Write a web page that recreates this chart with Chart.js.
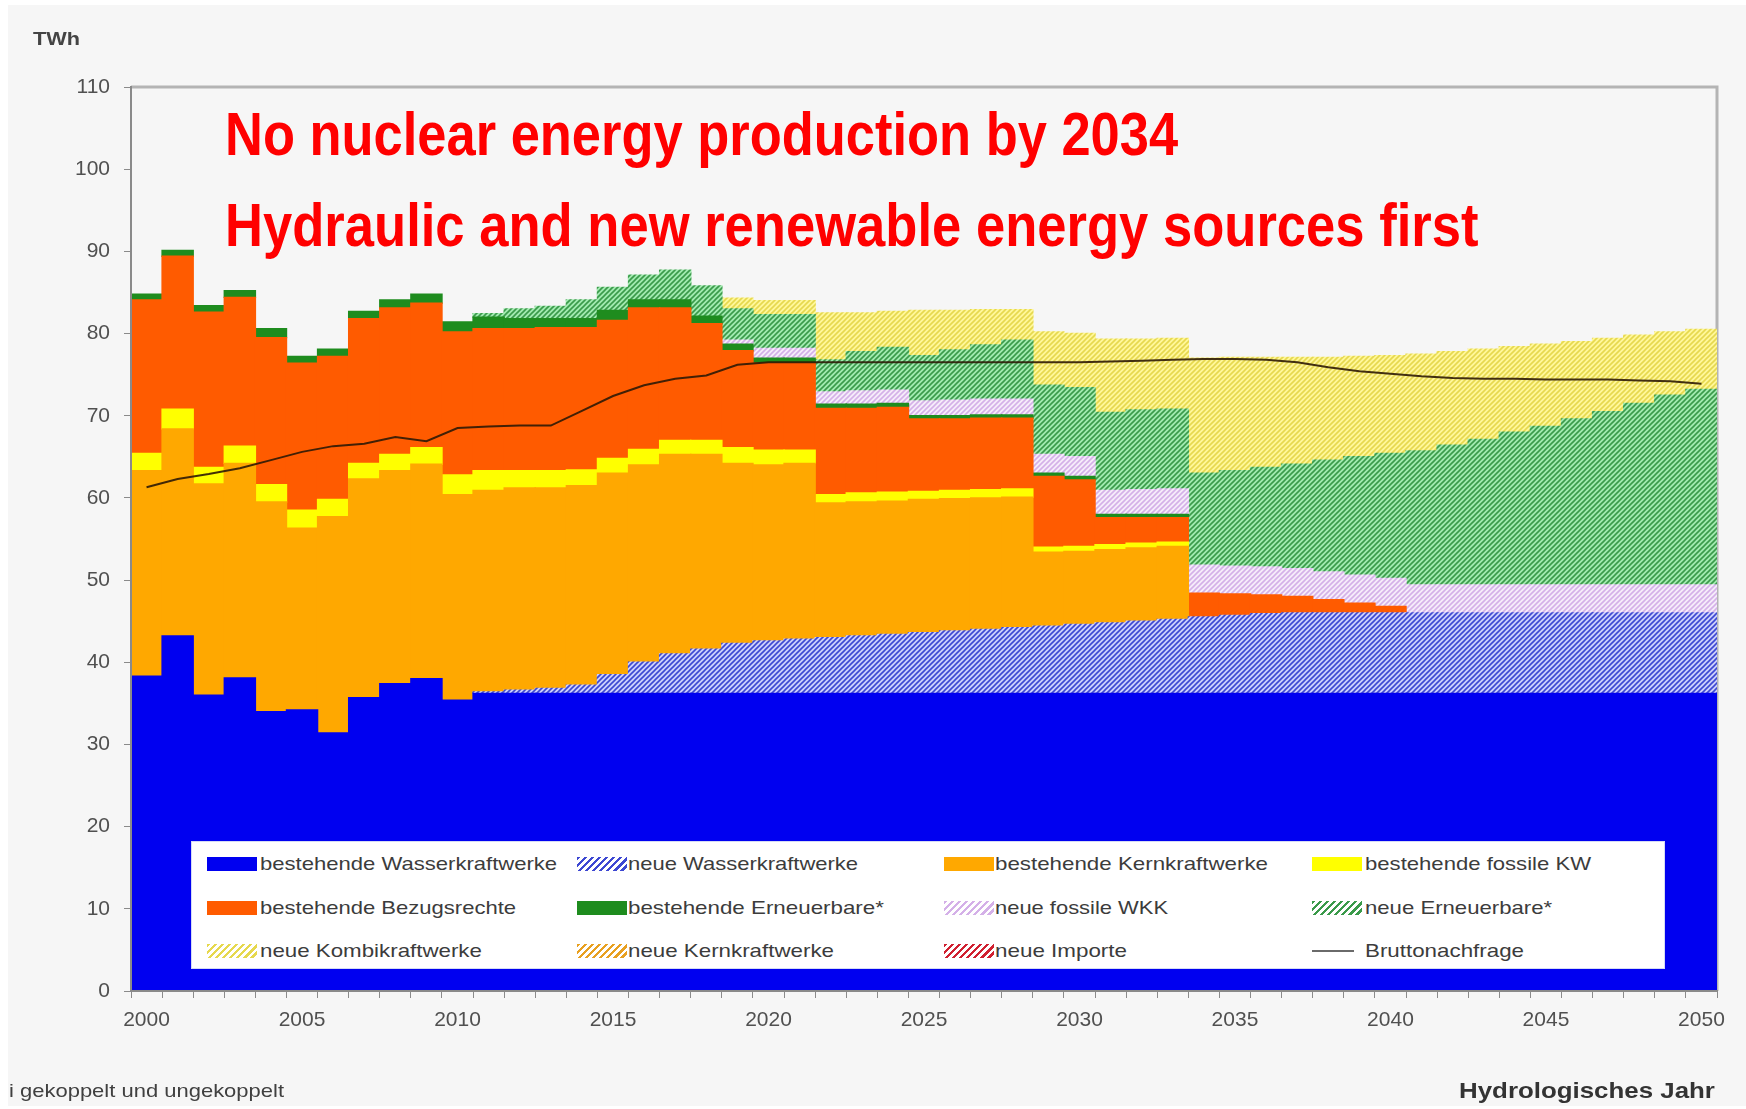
<!DOCTYPE html>
<html>
<head>
<meta charset="utf-8">
<script src="https://cdn.jsdelivr.net/npm/chart.js@4.4.1/dist/chart.umd.min.js"></script>
<style>
  body { margin: 0; background: #fff; }
  #wrap { position: relative; width: 1746px; height: 1109px; overflow: hidden; }
  #bg { position: absolute; left: 8px; top: 5px; right: 0; bottom: 3px; background: #f6f6f6; }
  canvas { position: absolute; left: 0; top: 0; }
  .txt { position: absolute; white-space: nowrap; transform-origin: 0 50%; line-height: 1; }
  .red { color: #ff0000; font-family: "Liberation Sans", Arial, sans-serif; font-weight: bold; font-size: 62px; }
  .note { font-family: "Liberation Sans", Arial, sans-serif; color: #404040; }
  #legend { position: absolute; left: 191px; top: 841px; width: 1474px; height: 128px; background: #fff; border: 1px solid #d4daf5; box-sizing: border-box; }
  .sw { position: absolute; width: 50px; height: 14px; }
  .lt { font-family: "Liberation Sans", Arial, sans-serif; font-size: 19px; color: #3c3c3c; }
</style>
</head>
<body>
<div id="wrap">
  <div id="bg"></div>
  <canvas id="chart" width="1746" height="1109"></canvas>

  <div class="txt note" data-w="47" style="left:33px; top:29px; font-size:19px; font-weight:bold; color:#444;">TWh</div>
  <div class="txt red" data-w="953" style="left:225px; top:103px;">No nuclear energy production by 2034</div>
  <div class="txt red" data-w="1253" style="left:225px; top:194px;">Hydraulic and new renewable energy sources first</div>
  <div class="txt note" data-w="275" style="left:9px; top:1081px; font-size:19px;">i gekoppelt und ungekoppelt</div>
  <div class="txt note" data-w="256" style="left:1459px; top:1080px; font-size:22px; font-weight:bold; color:#333;">Hydrologisches Jahr</div>

  <div id="legend"></div>
</div>

<script>
// categories
const years = [2000, 2001, 2002, 2003, 2004, 2005, 2006, 2007, 2008, 2009,
  2010, 2011, 2012, 2013, 2014, 2015, 2016, 2017, 2018, 2019,
  2020, 2021, 2022, 2023, 2024, 2025, 2026, 2027, 2028, 2029,
  2030, 2031, 2032, 2033, 2034, 2035, 2036, 2037, 2038, 2039,
  2040, 2041, 2042, 2043, 2044, 2045, 2046, 2047, 2048, 2049, 2050];

// TWh per year, stacked from the bottom up
const wasserBestehend = [38.3, 43.2, 36.0, 38.1, 34.0, 34.2, 31.4, 35.7, 37.4, 38.0,
  35.4, 36.2, 36.2, 36.2, 36.2, 36.2, 36.2, 36.2, 36.2, 36.2,
  36.2, 36.2, 36.2, 36.2, 36.2, 36.2, 36.2, 36.2, 36.2, 36.2,
  36.2, 36.2, 36.2, 36.2, 36.2, 36.2, 36.2, 36.2, 36.2, 36.2,
  36.2, 36.2, 36.2, 36.2, 36.2, 36.2, 36.2, 36.2, 36.2, 36.2, 36.2];
const wasserNeu = [0, 0, 0, 0, 0, 0, 0, 0, 0, 0,
  0, 0.2, 0.4, 0.6, 1.0, 2.3, 3.8, 4.8, 5.4, 6.1,
  6.4, 6.6, 6.8, 7.0, 7.2, 7.4, 7.6, 7.8, 8.0, 8.2,
  8.4, 8.6, 8.8, 9.0, 9.3, 9.5, 9.7, 9.8, 9.8, 9.8,
  9.8, 9.8, 9.8, 9.8, 9.8, 9.8, 9.8, 9.8, 9.8, 9.8, 9.8];
const kernBestehend = [25.0, 25.2, 25.7, 26.1, 25.5, 22.1, 26.3, 26.6, 25.9, 26.1,
  25.0, 24.5, 24.6, 24.4, 24.3, 24.5, 24.0, 24.3, 23.7, 21.9,
  21.4, 21.4, 16.4, 16.3, 16.2, 16.2, 16.1, 16.0, 15.9, 9.0,
  8.9, 8.9, 8.9, 8.9, 0, 0, 0, 0, 0, 0,
  0, 0, 0, 0, 0, 0, 0, 0, 0, 0, 0];
const kernNeu = [0, 0, 0, 0, 0, 0, 0, 0, 0, 0,
  0, 0, 0, 0, 0, 0, 0, 0, 0, 0,
  0, 0, 0, 0, 0, 0, 0, 0, 0, 0,
  0, 0, 0, 0, 0, 0, 0, 0, 0, 0,
  0, 0, 0, 0, 0, 0, 0, 0, 0, 0, 0];
const fossilBestehend = [2.1, 2.4, 2.0, 2.1, 2.1, 2.2, 2.1, 1.9, 2.0, 2.0,
  2.4, 2.4, 2.1, 2.1, 1.9, 1.8, 1.9, 1.7, 1.7, 1.9,
  1.8, 1.6, 1.0, 1.1, 1.1, 1.0, 1.0, 1.0, 1.0, 0.6,
  0.6, 0.6, 0.6, 0.5, 0, 0, 0, 0, 0, 0,
  0, 0, 0, 0, 0, 0, 0, 0, 0, 0, 0];
const bezugsrechte = [18.7, 18.6, 18.9, 18.1, 17.9, 17.9, 17.4, 17.6, 17.8, 17.6,
  17.4, 17.3, 17.3, 17.4, 17.3, 16.8, 17.2, 16.1, 14.2, 11.8,
  10.6, 10.6, 10.5, 10.3, 10.3, 8.8, 8.7, 8.7, 8.6, 8.6,
  8.1, 3.3, 3.1, 3.0, 2.9, 2.6, 2.3, 2.0, 1.6, 1.2,
  0.8, 0, 0, 0, 0, 0, 0, 0, 0, 0, 0];
const erneuerbarBestehend = [0.7, 0.7, 0.8, 0.8, 1.1, 0.8, 0.9, 0.9, 1.0, 1.1,
  1.2, 1.4, 1.2, 1.1, 1.1, 1.2, 1.0, 1.0, 0.9, 0.8,
  0.6, 0.6, 0.5, 0.5, 0.5, 0.4, 0.4, 0.4, 0.4, 0.4,
  0.4, 0.4, 0.4, 0.4, 0, 0, 0, 0, 0, 0,
  0, 0, 0, 0, 0, 0, 0, 0, 0, 0, 0];
const wkkNeu = [0, 0, 0, 0, 0, 0, 0, 0, 0, 0,
  0, 0, 0, 0, 0, 0, 0, 0, 0, 0.5,
  1.2, 1.2, 1.5, 1.6, 1.6, 1.8, 1.9, 1.9, 1.9, 2.3,
  2.4, 2.9, 3.0, 3.1, 3.4, 3.4, 3.4, 3.4, 3.4, 3.4,
  3.4, 3.4, 3.4, 3.4, 3.4, 3.4, 3.4, 3.4, 3.4, 3.4, 3.4];
const erneuerbarNeu = [0, 0, 0, 0, 0, 0, 0, 0, 0, 0,
  0, 0.4, 1.2, 1.5, 2.3, 2.8, 3.0, 3.6, 3.7, 3.8,
  4.1, 4.1, 3.9, 4.8, 5.2, 5.5, 6.1, 6.6, 7.2, 8.4,
  8.4, 9.5, 9.7, 9.7, 11.2, 11.6, 12.1, 12.7, 13.6, 14.4,
  15.2, 16.3, 17.0, 17.7, 18.6, 19.3, 20.2, 21.1, 22.1, 23.1, 23.8];
const importeNeu = [0, 0, 0, 0, 0, 0, 0, 0, 0, 0,
  0, 0, 0, 0, 0, 0, 0, 0, 0, 0,
  0, 0, 0, 0, 0, 0, 0, 0, 0, 0,
  0, 0, 0, 0, 0, 0, 0, 0, 0, 0,
  0, 0, 0, 0, 0, 0, 0, 0, 0, 0, 0];
const kombiNeu = [0, 0, 0, 0, 0, 0, 0, 0, 0, 0,
  0, 0, 0, 0, 0, 0, 0, 0, 0, 1.3,
  1.7, 1.7, 5.7, 4.7, 4.4, 5.5, 4.8, 4.3, 3.7, 6.5,
  6.6, 8.9, 8.6, 8.6, 14.0, 13.8, 13.4, 13.0, 12.5, 12.2,
  11.9, 11.8, 11.4, 11.0, 10.4, 10.0, 9.4, 8.9, 8.3, 7.7, 7.3];
const bruttonachfrage = [61.3, 62.3, 62.9, 63.6, 64.6, 65.6, 66.3, 66.6, 67.4, 66.9,
  68.5, 68.7, 68.8, 68.8, 70.6, 72.4, 73.7, 74.5, 74.9, 76.2,
  76.5, 76.5, 76.5, 76.5, 76.5, 76.5, 76.5, 76.5, 76.5, 76.5,
  76.5, 76.6, 76.7, 76.8, 76.9, 76.9, 76.8, 76.5, 75.9, 75.4,
  75.1, 74.8, 74.6, 74.5, 74.5, 74.4, 74.4, 74.4, 74.3, 74.2, 73.9];

function hatch(bg, fg) {
  const size = 5;
  const c = document.createElement("canvas");
  c.width = c.height = size;
  const g = c.getContext("2d");
  g.fillStyle = bg;
  g.fillRect(0, 0, size, size);
  g.strokeStyle = fg;
  g.lineWidth = 1.6;
  g.beginPath();
  g.moveTo(0, size); g.lineTo(size, 0);
  g.moveTo(-1, 1); g.lineTo(1, -1);
  g.moveTo(size - 1, size + 1); g.lineTo(size + 1, size - 1);
  g.stroke();
  return g.createPattern(c, "repeat");
}

// series: label, values, fill colour, hatch stripe colour (null = solid), legend slot
const series = [
  { label: "bestehende Wasserkraftwerke", data: wasserBestehend, bg: "#0000f0", fg: null, col: 0, row: 0 },
  { label: "neue Wasserkraftwerke", data: wasserNeu, bg: "#cdd0fb", fg: "#3d47d2", col: 1, row: 0 },
  { label: "bestehende Kernkraftwerke", data: kernBestehend, bg: "#ffa800", fg: null, col: 2, row: 0 },
  { label: "neue Kernkraftwerke", data: kernNeu, bg: "#fff2c8", fg: "#e8a020", col: 1, row: 2 },
  { label: "bestehende fossile KW", data: fossilBestehend, bg: "#ffff00", fg: null, col: 3, row: 0 },
  { label: "bestehende Bezugsrechte", data: bezugsrechte, bg: "#ff5b00", fg: null, col: 0, row: 1 },
  { label: "bestehende Erneuerbare*", data: erneuerbarBestehend, bg: "#1e8c1e", fg: null, col: 1, row: 1 },
  { label: "neue fossile WKK", data: wkkNeu, bg: "#f6ecfa", fg: "#d4b0e8", col: 2, row: 1 },
  { label: "neue Erneuerbare*", data: erneuerbarNeu, bg: "#a2eab0", fg: "#3a9a4a", col: 3, row: 1 },
  { label: "neue Importe", data: importeNeu, bg: "#fbe0e0", fg: "#d02030", col: 2, row: 2 },
  { label: "neue Kombikraftwerke", data: kombiNeu, bg: "#fff79a", fg: "#e6d84e", col: 0, row: 2 },
];

const datasets = series.map((s) => ({
  type: "bar",
  label: s.label,
  data: s.data.map((v) => (v === 0 ? null : v)),
  backgroundColor: s.fg ? hatch(s.bg, s.fg) : s.bg,
  borderWidth: 0,
  barPercentage: 1,
  categoryPercentage: 1,
  inflateAmount: 0.7,
  stack: "supply",
  order: 1,
}));
datasets.push({
  type: "line",
  label: "Bruttonachfrage",
  data: bruttonachfrage,
  borderColor: "rgba(45,25,5,0.9)",
  borderWidth: 2,
  pointRadius: 0,
  tension: 0,
  fill: false,
  stack: "demand",
  order: 0,
});

const tickFont = { family: "'Liberation Sans', Arial, sans-serif", size: 21 };

// plot frame along top and right, under the data
const frame = {
  id: "frame",
  beforeDatasetsDraw(chart) {
    const { ctx, chartArea: a } = chart;
    ctx.save();
    ctx.strokeStyle = "#b4b4b4";
    ctx.lineWidth = 3;
    ctx.beginPath();
    ctx.moveTo(a.left, a.top);
    ctx.lineTo(a.right, a.top);
    ctx.lineTo(a.right, a.bottom);
    ctx.stroke();
    ctx.restore();
  },
};

new Chart(document.getElementById("chart"), {
  type: "bar",
  data: { labels: years, datasets },
  options: {
    responsive: false,
    animation: false,
    layout: { padding: { top: 87, right: 29, left: 0, bottom: 0 } },
    plugins: {
      legend: { display: false },
      tooltip: { enabled: false },
    },
    scales: {
      x: {
        stacked: true,
        grid: { drawOnChartArea: false, tickLength: 7, color: "#8a8a8a", offset: true },
        border: { color: "#8a8a8a", width: 2, z: 1 },
        ticks: {
          autoSkip: false,
          maxRotation: 0,
          padding: 10,
          color: "#505050",
          font: tickFont,
          callback: (v, i) => (years[i] % 5 === 0 ? String(years[i]) : ""),
        },
        afterFit: (s) => { s.height = 118; },
      },
      y: {
        stacked: true,
        min: 0,
        max: 110,
        ticks: { stepSize: 10, padding: 14, color: "#505050", font: tickFont },
        grid: { drawOnChartArea: false, tickLength: 7, color: "#8a8a8a" },
        border: { color: "#8a8a8a", width: 2, z: 1 },
        afterFit: (s) => { s.width = 131; },
      },
    },
  },
  plugins: [frame],
});

// legend, 4 columns x 3 rows
const legend = document.getElementById("legend");
const colSw = [15, 385, 752, 1120];
const colTx = [68, 436, 803, 1173];
const rowY = [22, 66, 109];
const textW = {
  "bestehende Wasserkraftwerke": 297, "neue Wasserkraftwerke": 230,
  "bestehende Kernkraftwerke": 273, "bestehende fossile KW": 226,
  "bestehende Bezugsrechte": 256, "bestehende Erneuerbare*": 256,
  "neue fossile WKK": 173, "neue Erneuerbare*": 187,
  "neue Kombikraftwerke": 222, "neue Kernkraftwerke": 206,
  "neue Importe": 132, "Bruttonachfrage": 159,
};
const entries = series.concat([{ label: "Bruttonachfrage", line: true, col: 3, row: 2 }]);
entries.forEach((s) => {
  const sw = document.createElement("div");
  sw.className = "sw";
  sw.style.left = colSw[s.col] + "px";
  if (s.line) {
    sw.style.top = rowY[s.row] - 1 + "px";
    sw.style.height = "2px";
    sw.style.width = "42px";
    sw.style.background = "#6a6a6a";
  } else {
    sw.style.top = rowY[s.row] - 7 + "px";
    sw.style.background = s.fg
      ? `repeating-linear-gradient(135deg, ${s.fg} 0 2.5px, #ffffff 2.5px 5px)`
      : s.bg;
  }
  legend.appendChild(sw);
  const t = document.createElement("div");
  t.className = "txt lt";
  t.textContent = s.label;
  t.dataset.w = textW[s.label];
  t.style.left = colTx[s.col] + "px";
  t.style.top = rowY[s.row] - 10 + "px";
  legend.appendChild(t);
});

// stretch texts to the widths they take in the picture
document.querySelectorAll("[data-w]").forEach((el) => {
  const w = el.getBoundingClientRect().width;
  el.style.transform = `scaleX(${(+el.dataset.w / w).toFixed(3)})`;
});
</script>
</body>
</html>
